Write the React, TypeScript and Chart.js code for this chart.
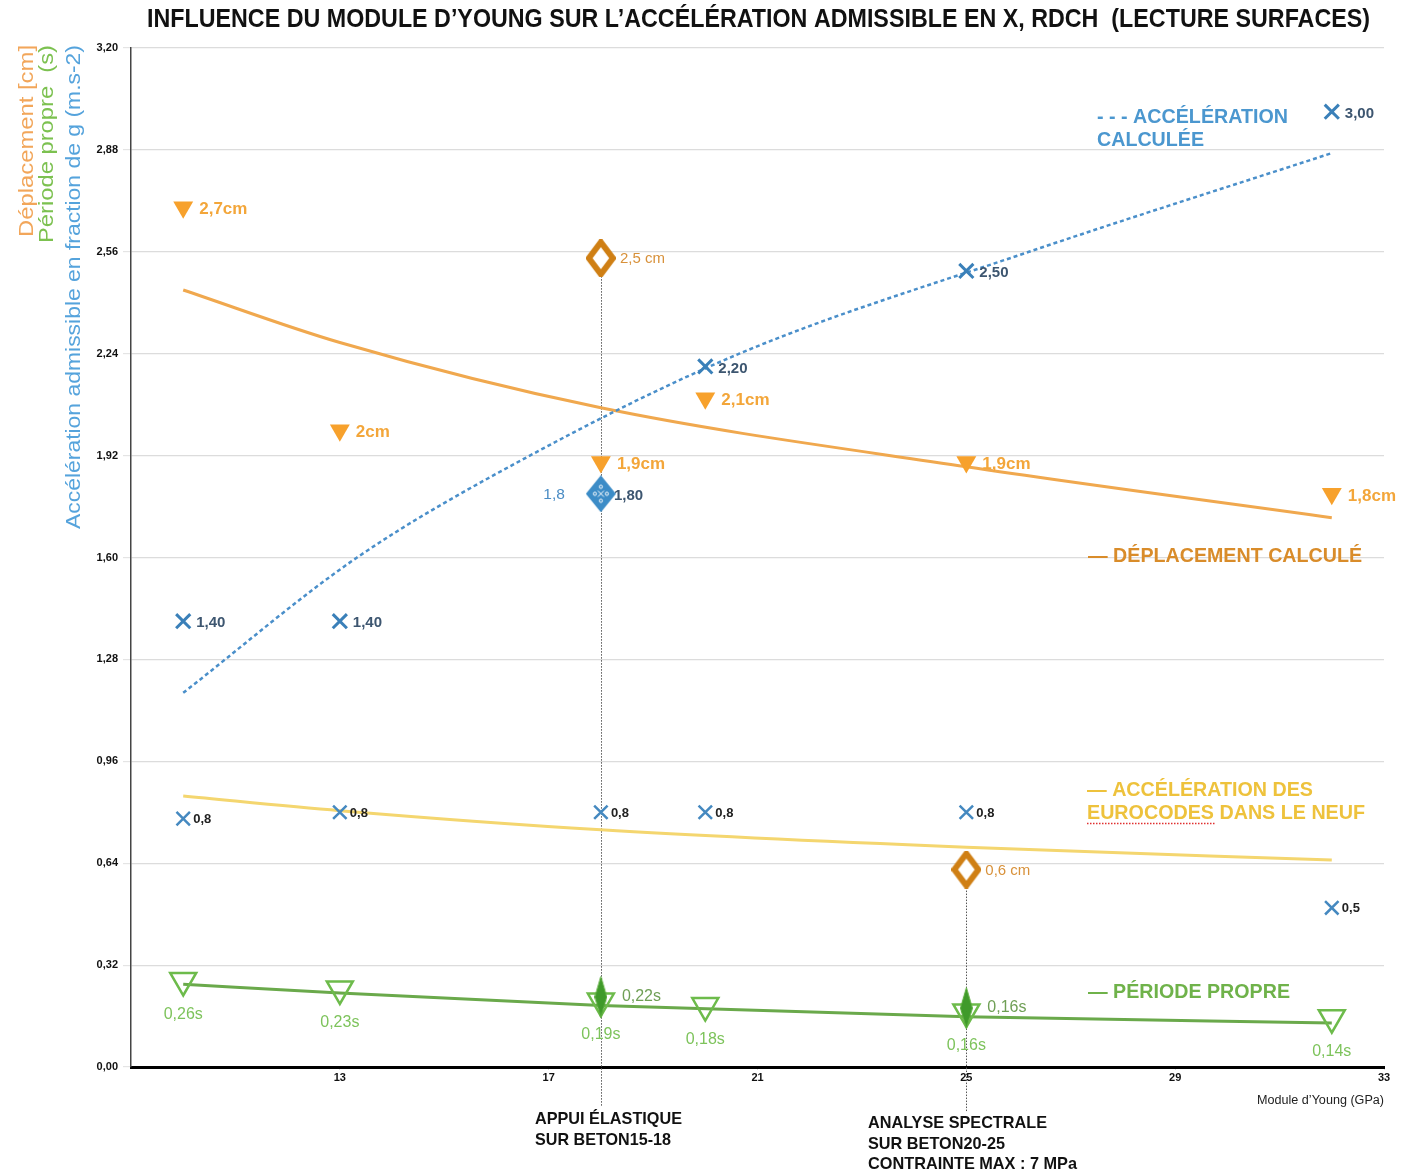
import React, { useEffect, useRef } from "react";
import { Chart, registerables } from "chart.js";

Chart.register(...registerables);

// ---------- DATA ----------
const youngModulus = [10, 13, 18, 20, 25, 32];
const accelAdmissible = [1.4, 1.4, 1.8, 2.2, 2.5, 3.0];
const accelAdmissibleLabels = ["1,40", "1,40", "1,80", "2,20", "2,50", "3,00"];
const accelLow = [0.78, 0.8, 0.8, 0.8, 0.8, 0.5];
const accelLowLabels = ["0,8", "0,8", "0,8", "0,8", "0,8", "0,5"];
const deplacement = [2.7, 2.0, 1.9, 2.1, 1.9, 1.8];
const deplacementLabels = ["2,7cm", "2cm", "1,9cm", "2,1cm", "1,9cm", "1,8cm"];
const periode = [0.272, 0.245, 0.207, 0.193, 0.173, 0.155];
const periodeLabels = ["0,26s", "0,23s", "0,19s", "0,18s", "0,16s", "0,14s"];

const measuredX = [18, 25];
const deplacementMesure = [2.54, 0.62];
const deplacementMesureLabels = ["2,5 cm", "0,6 cm"];
const periodeMesure = [0.22, 0.185];
const periodeMesureLabels = ["0,22s", "0,16s"];
const accelMesureX = [18];
const accelMesure = [1.8];
const accelMesureLabels = ["1,8"];

const accelCurveX = [10, 13.33, 16.64, 20.65, 26.2, 32];
const accelCurveY = [1.175, 1.6, 1.92, 2.24, 2.56, 2.87];
const deplCurveX = [10, 13, 18, 25, 32];
const deplCurveY = [2.44, 2.275, 2.07, 1.885, 1.725];
const eurocodeCurveX = [10, 13, 18, 25, 32];
const eurocodeCurveY = [0.851, 0.805, 0.745, 0.69, 0.65];
const periodeCurveX = [10, 13, 18, 25, 32];
const periodeCurveY = [0.26, 0.232, 0.193, 0.158, 0.138];

const xTicks = [13, 17, 21, 25, 29, 33];
const yTicks = [0, 0.32, 0.64, 0.96, 1.28, 1.6, 1.92, 2.24, 2.56, 2.88, 3.2];

const title = "INFLUENCE DU MODULE D’YOUNG SUR L’ACCÉLÉRATION ADMISSIBLE EN X, RDCH  (LECTURE SURFACES)";
const yTitleLines = [
  "Déplacement [cm]",
  "Période propre  (s)",
  "Accélération admissible en fraction de g (m.s-2)",
];
const xTitle = "Module d’Young (GPa)";
const legendAccel = ["- - - ACCÉLÉRATION", "CALCULÉE"];
const legendDepl = ["— DÉPLACEMENT CALCULÉ"];
const legendEuro = ["— ACCÉLÉRATION DES", "EUROCODES DANS LE NEUF"];
const legendPeriode = ["— PÉRIODE PROPRE"];
const noteAppui = ["APPUI ÉLASTIQUE", "SUR BETON15-18"];
const noteSpectrale = ["ANALYSE SPECTRALE", "SUR BETON20-25", "CONTRAINTE MAX : 7 MPa"];

const zip = (xs: number[], ys: number[]) => xs.map((x, i) => ({ x, y: ys[i] }));

const SANS = "'Liberation Sans', Arial, Helvetica, sans-serif";
const NARROW = "'Liberation Sans Narrow', 'Liberation Sans', Arial, sans-serif";

function diamondImage(w: number, h: number, fill: string, stroke: string, lw: number, dots = false) {
  const c = document.createElement("canvas");
  c.width = w;
  c.height = h;
  const g = c.getContext("2d")!;
  const m = lw / 2;
  g.beginPath();
  g.moveTo(w / 2, m);
  g.lineTo(w - m, h / 2);
  g.lineTo(w / 2, h - m);
  g.lineTo(m, h / 2);
  g.closePath();
  g.fillStyle = fill;
  g.fill();
  if (lw > 0) {
    g.lineWidth = lw;
    g.strokeStyle = stroke;
    g.lineJoin = "miter";
    g.stroke();
  }
  if (dots) {
    g.strokeStyle = "#ffffff";
    g.lineWidth = 1;
    const cx = w / 2, cy = h / 2;
    [[0, -7], [0, 7], [-6, 0], [6, 0]].forEach(([dx, dy]) => {
      g.beginPath();
      g.arc(cx + dx, cy + dy, 1.6, 0, Math.PI * 2);
      g.stroke();
    });
    g.beginPath();
    g.moveTo(cx - 3, cy - 3); g.lineTo(cx + 3, cy + 3);
    g.moveTo(cx + 3, cy - 3); g.lineTo(cx - 3, cy + 3);
    g.stroke();
  }
  return c;
}

function fitText(ctx: CanvasRenderingContext2D, text: string, x: number, y: number, width: number, font: string, color: string) {
  ctx.save();
  ctx.font = font;
  ctx.fillStyle = color;
  ctx.textBaseline = "middle";
  ctx.textAlign = "left";
  const w = ctx.measureText(text).width;
  ctx.translate(x, y);
  ctx.scale(width / w, 1);
  ctx.fillText(text, 0, 0);
  ctx.restore();
}

const labelPlugin = {
  id: "pointLabels",
  afterDatasetsDraw(chart: any) {
    const ctx: CanvasRenderingContext2D = chart.ctx;
    chart.data.datasets.forEach((ds: any, i: number) => {
      if (!ds.ptLabels) return;
      const meta = chart.getDatasetMeta(i);
      const st = ds.lblStyle;
      ctx.save();
      ctx.font = st.font;
      ctx.fillStyle = st.color;
      ctx.textAlign = st.align || "left";
      ctx.textBaseline = "middle";
      meta.data.forEach((el: any, j: number) => {
        ctx.fillText(ds.ptLabels[j], el.x + st.dx, el.y + st.dy);
      });
      ctx.restore();
    });
  },
};

const decorPlugin = {
  id: "decor",
  beforeDatasetsDraw(chart: any) {
    const ctx: CanvasRenderingContext2D = chart.ctx;
    const xs = chart.scales.x, ys = chart.scales.y;
    const ends = [chart.chartArea.bottom + 40, chart.chartArea.bottom + 45];
    ctx.save();
    ctx.strokeStyle = "#555";
    ctx.lineWidth = 1;
    ctx.setLineDash([1.5, 1.5]);
    measuredX.forEach((xv, i) => {
      const px = Math.round(xs.getPixelForValue(xv)) + 0.5;
      ctx.beginPath();
      ctx.moveTo(px, ys.getPixelForValue(deplacementMesure[i]));
      ctx.lineTo(px, ends[i]);
      ctx.stroke();
    });
    ctx.restore();
  },
  afterDraw(chart: any) {
    const ctx: CanvasRenderingContext2D = chart.ctx;
    // title
    fitText(ctx, title, 147, 20, 1223, `bold 25px ${NARROW}`, "#111");
    // y-axis titles (rotated)
    const yCols = [
      { t: yTitleLines[0], x: 27, len: 192, c: "#f2a65a" },
      { t: yTitleLines[1], x: 47, len: 198, c: "#7cc150" },
      { t: yTitleLines[2], x: 74, len: 484, c: "#55a3dc" },
    ];
    yCols.forEach((o) => {
      ctx.save();
      ctx.translate(o.x, 45);
      ctx.rotate(-Math.PI / 2);
      ctx.font = `21px ${SANS}`;
      const w = ctx.measureText(o.t).width;
      ctx.scale(o.len / w, 1);
      ctx.fillStyle = o.c;
      ctx.textAlign = "right";
      ctx.textBaseline = "middle";
      ctx.fillText(o.t, 0, 0);
      ctx.restore();
    });
    // x-axis title
    fitText(ctx, xTitle, 1257, 1101, 127, `12px ${SANS}`, "#222");
    // legends inside plot
    const LF = `bold 21px ${SANS}`;
    fitText(ctx, legendAccel[0], 1097, 117, 191, LF, "#4b97cf");
    fitText(ctx, legendAccel[1], 1097, 140, 107, LF, "#4b97cf");
    fitText(ctx, legendDepl[0], 1088, 556, 274, LF, "#d98c2a");
    fitText(ctx, legendEuro[0], 1087, 790, 226, LF, "#eec23c");
    fitText(ctx, legendEuro[1], 1087, 813, 278, LF, "#eec23c");
    fitText(ctx, legendPeriode[0], 1088, 992, 202, LF, "#6fb24a");
    // red spell-check underline under EUROCODES
    ctx.save();
    ctx.strokeStyle = "#e03030";
    ctx.lineWidth = 1.5;
    ctx.setLineDash([1.5, 1.5]);
    ctx.beginPath();
    ctx.moveTo(1087, 823.5);
    ctx.lineTo(1216, 823.5);
    ctx.stroke();
    ctx.restore();
    // bottom notes
    const NF = `bold 17px ${NARROW}`;
    fitText(ctx, noteAppui[0], 535, 1119, 147, NF, "#111");
    fitText(ctx, noteAppui[1], 535, 1140, 136, NF, "#111");
    fitText(ctx, noteSpectrale[0], 868, 1123, 179, NF, "#111");
    fitText(ctx, noteSpectrale[1], 868, 1144, 137, NF, "#111");
    fitText(ctx, noteSpectrale[2], 868, 1164, 209, NF, "#111");
  },
};

export default function App() {
  const ref = useRef<HTMLCanvasElement | null>(null);

  useEffect(() => {
    document.body.style.margin = "0";
    const canvas = ref.current!;
    const blueDiamond = diamondImage(30, 37, "#3c8cc7", "#3c8cc7", 0, true);
    const orangeDiamond = diamondImage(30, 38, "#ffffff", "#cf7f14", 6);
    const greenDiamond = diamondImage(13, 42, "#3f9a2a", "#5fb040", 1);

    const chart = new Chart(canvas, {
      type: "scatter",
      data: {
        datasets: [
          {
            data: zip(measuredX, periodeMesure),
            pointStyle: greenDiamond as any,
            pointRadius: 20,
            ptLabels: periodeMesureLabels,
            lblStyle: { dx: 21, dy: 0, font: `16px ${SANS}`, color: "#6f9f55" },
          } as any,
          {
            data: zip(accelMesureX, accelMesure),
            pointStyle: blueDiamond as any,
            pointRadius: 18,
            ptLabels: accelMesureLabels,
            lblStyle: { dx: -36, dy: 1, font: `15.5px ${SANS}`, color: "#4a8cc4", align: "right" },
          } as any,
          {
            data: zip(youngModulus, accelAdmissible),
            pointStyle: "crossRot",
            pointRadius: 10,
            pointBorderWidth: 3,
            borderColor: "#3a80b9",
            backgroundColor: "#3a80b9",
            ptLabels: accelAdmissibleLabels,
            lblStyle: { dx: 13, dy: 2, font: `bold 15px ${SANS}`, color: "#3d5670" },
          } as any,
          {
            data: zip(youngModulus, accelLow),
            pointStyle: "crossRot",
            pointRadius: 9.5,
            pointBorderWidth: 2.5,
            borderColor: "#4589c0",
            backgroundColor: "#4589c0",
            ptLabels: accelLowLabels,
            lblStyle: { dx: 10, dy: 1, font: `bold 13px ${SANS}`, color: "#222" },
          } as any,
          {
            data: zip(measuredX, deplacementMesure),
            pointStyle: orangeDiamond as any,
            pointRadius: 19,
            ptLabels: deplacementMesureLabels,
            lblStyle: { dx: 19, dy: 1, font: `15px ${SANS}`, color: "#d8913a" },
          } as any,
          {
            data: zip(youngModulus, deplacement),
            pointStyle: "triangle",
            rotation: 180,
            pointRadius: 11.5,
            pointBorderWidth: 0,
            backgroundColor: "#f7a12c",
            borderColor: "#f7a12c",
            ptLabels: deplacementLabels,
            lblStyle: { dx: 16, dy: 2, font: `bold 17px ${SANS}`, color: "#f3a63a" },
          } as any,
          {
            data: zip(youngModulus, periode),
            pointStyle: "triangle",
            rotation: 180,
            pointRadius: 15,
            pointBorderWidth: 2.5,
            backgroundColor: "rgba(255,255,255,0)",
            borderColor: "#6dbb4b",
            ptLabels: periodeLabels,
            lblStyle: { dx: 0, dy: 34, font: `16px ${SANS}`, color: "#7dc35b", align: "center" },
          } as any,
          {
            data: zip(accelCurveX, accelCurveY),
            showLine: true,
            pointRadius: 0,
            borderColor: "#4a8fca",
            borderWidth: 2.5,
            borderDash: [4, 3],
            cubicInterpolationMode: "monotone",
          } as any,
          {
            data: zip(deplCurveX, deplCurveY),
            showLine: true,
            pointRadius: 0,
            borderColor: "#f0a84e",
            borderWidth: 3,
            cubicInterpolationMode: "monotone",
          } as any,
          {
            data: zip(eurocodeCurveX, eurocodeCurveY),
            showLine: true,
            pointRadius: 0,
            borderColor: "#f4d66f",
            borderWidth: 3,
            cubicInterpolationMode: "monotone",
          } as any,
          {
            data: zip(periodeCurveX, periodeCurveY),
            showLine: true,
            pointRadius: 0,
            borderColor: "#6aa94b",
            borderWidth: 3,
            cubicInterpolationMode: "monotone",
          } as any,
        ],
      },
      options: {
        animation: false,
        responsive: false,
        events: [],
        layout: { padding: { top: 48, right: 30, bottom: 0, left: 0 } },
        plugins: {
          legend: { display: false },
          tooltip: { enabled: false },
          title: { display: false },
        },
        scales: {
          x: {
            type: "linear",
            min: 9,
            max: 33,
            afterBuildTicks: (s: any) => {
              s.ticks = xTicks.map((v) => ({ value: v }));
            },
            afterFit: (s: any) => {
              s.height = 106;
            },
            border: { display: true, color: "#000", width: 3 },
            grid: { drawOnChartArea: false, drawTicks: true, tickLength: 3, color: "#dddddd" },
            ticks: {
              padding: 1,
              color: "#111",
              font: { family: NARROW, size: 11, weight: "bold" },
              callback: (v: any) => String(v),
              maxRotation: 0,
            },
          },
          y: {
            type: "linear",
            min: 0,
            max: 3.2,
            afterBuildTicks: (s: any) => {
              s.ticks = yTicks.map((v) => ({ value: v }));
            },
            afterFit: (s: any) => {
              s.width = 131;
            },
            border: { display: true, color: "#444", width: 1.5 },
            grid: { color: "#dcdcdc", lineWidth: 1.2, tickLength: 8, tickColor: "#e4e4e4" },
            ticks: {
              padding: 5,
              color: "#111",
              font: { family: NARROW, size: 11, weight: "bold" },
              callback: (v: any) => Number(v).toFixed(2).replace(".", ","),
            },
          },
        },
      },
      plugins: [decorPlugin, labelPlugin],
    } as any);

    return () => chart.destroy();
  }, []);

  return (
    <div style={{ width: 1414, height: 1173, background: "#fff" }}>
      <canvas ref={ref} width={1414} height={1173} style={{ display: "block" }} />
    </div>
  );
}
